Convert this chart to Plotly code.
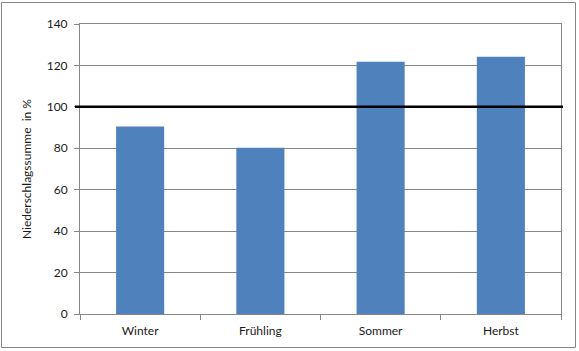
import plotly.graph_objects as go

categories = ["Winter", "Frühling", "Sommer", "Herbst"]
values = [90.5, 80.2, 121.8, 124.2]
reference_value = 100
y_ticks = [0, 20, 40, 60, 80, 100, 120, 140]

W, H = 579, 351
L, R, T, B = 80, 18, 24, 37
pw, ph = W - L - R, H - T - B

def px_x(p):
    return (p - L) / pw

def px_y(p):
    return (H - B - p) / ph

fig = go.Figure()
fig.add_trace(go.Bar(x=categories, y=values, marker=dict(color="#4F81BD", line=dict(width=0)),
                     width=0.4, hoverinfo="skip"))

grid = "#878787"
fig.update_layout(
    width=W, height=H,
    margin=dict(l=L, r=R, t=T, b=B),
    paper_bgcolor="white", plot_bgcolor="white",
    font=dict(family="Lato, 'Open Sans', sans-serif", size=12, color="#1a1a1a"),
    showlegend=False,
    xaxis=dict(type="category", showgrid=False, showline=True, linecolor=grid, linewidth=1,
               ticks="outside", tickson="boundaries", ticklen=5, tickcolor=grid,
               mirror=True, tickfont=dict(size=12), ticklabelstandoff=6),
    yaxis=dict(range=[0, 140], tickvals=y_ticks, showgrid=True, gridcolor=grid, gridwidth=1,
               showline=True, linecolor=grid, linewidth=1, ticks="outside", ticklen=5,
               tickcolor=grid, mirror=True, zeroline=False, tickfont=dict(size=12),
               ticklabelstandoff=4),
    shapes=[
        dict(type="line", xref="paper", yref="y", x0=px_x(75), x1=px_x(563),
             y0=reference_value, y1=reference_value, line=dict(color="black", width=2.5)),
        dict(type="rect", xref="paper", yref="paper", x0=px_x(1.5), x1=px_x(575.5),
             y0=px_y(347.5), y1=px_y(2.5), line=dict(color="#868686", width=1)),
    ],
    annotations=[
        dict(text="Niederschlagssumme  in %", xref="paper", yref="paper", x=px_x(26), y=0.5,
             xanchor="center", yanchor="middle", textangle=-90, showarrow=False,
             font=dict(size=12)),
    ],
)

fig.write_html("out.html")
